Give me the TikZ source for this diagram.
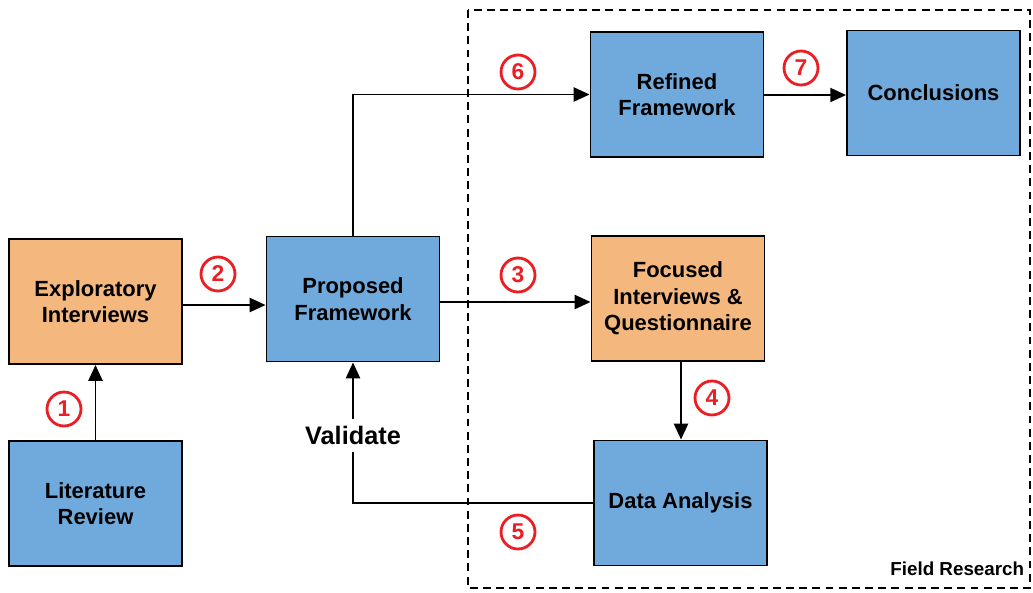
\documentclass[tikz,border=0pt]{standalone}
\usepackage{fontspec}
\setmainfont{Liberation Sans}
\usetikzlibrary{arrows.meta}

\definecolor{boxblue}{RGB}{112,170,220}
\definecolor{boxorange}{RGB}{244,184,126}
\definecolor{stepred}{RGB}{235,30,35}

\tikzset{
  stage/.style = {draw=black, line width=1.1pt, minimum width=3.46cm,
    minimum height=2.5cm, align=center, font=\bfseries\fontsize{12.5}{15}\selectfont},
  bluebox/.style = {stage, fill=boxblue},
  orangebox/.style = {stage, fill=boxorange},
  num/.style = {circle, draw=stepred, line width=1.6pt, minimum size=0.68cm,
    inner sep=0pt, text=stepred, font=\bfseries\fontsize{13}{13}\selectfont},
  flow/.style = {line width=1.1pt, -{Triangle[length=9pt,width=8pt]}}
}

\begin{document}
\begin{tikzpicture}[x=0.02cm, y=-0.02cm]
\useasboundingbox (0,0) rectangle (1033,592);

% field research area
\draw[line width=0.8pt, dash pattern=on 4.5pt off 3pt] (468,10) rectangle (1030,588);
\node[anchor=south east, inner sep=2pt, font=\bfseries\fontsize{10.7}{12}\selectfont] (field) at (1028,580) {Field Research};

% stages
\node[orangebox] (explore) at (95.5,301.5) {Exploratory\\Interviews};
\node[bluebox] (litrev) at (95.5,503.5) {Literature\\Review};
\node[bluebox] (proposed) at (353,299) {Proposed\\Framework};
\node[bluebox] (refined) at (677,94.5) {Refined\\Framework};
\node[bluebox] (concl) at (933.5,93) {Conclusions};
\node[orangebox] (focused) at (678,298.5) {Focused\\Interviews \&\\Questionnaire};
\node[bluebox] (analysis) at (680.5,503) {Data Analysis};

% connectors
\draw[flow] (litrev) -- (explore);
\draw[flow] (explore.east |- 0,305) -- (proposed.west |- 0,305);
\draw[flow] (proposed.east |- 0,302) -- (focused.west |- 0,302);
\draw[flow] (focused.south -| 681,0) -- (analysis.north -| 681,0);
\draw[flow] (analysis.west) -| node[pos=0.74, fill=white, inner sep=4pt,
  font=\bfseries\fontsize{14.4}{16}\selectfont] (validate) {Validate} (proposed.south);
\draw[flow] (proposed.north) |- (refined.west);
\draw[flow] (refined.east |- 0,95) -- (concl.west |- 0,95);

% step numbers
\node[num] (n1) at (64,409) {1};
\node[num] (n2) at (218,274) {2};
\node[num] (n3) at (518,275) {3};
\node[num] (n4) at (712,398) {4};
\node[num] (n5) at (518,532) {5};
\node[num] (n6) at (518,72) {6};
\node[num] (n7) at (801,68) {7};
\end{tikzpicture}
\end{document}
